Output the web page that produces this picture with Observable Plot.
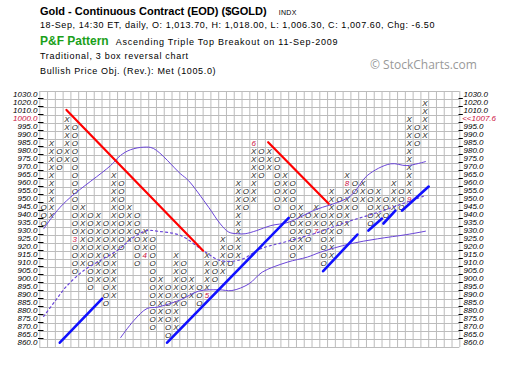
<!DOCTYPE html>
<html><head><meta charset="utf-8">
<script src="https://cdn.jsdelivr.net/npm/d3@7"></script>
<script src="https://cdn.jsdelivr.net/npm/@observablehq/plot@0.6"></script>
<style>
html,body{margin:0;padding:0;background:#fff;}
body{width:520px;height:370px;overflow:hidden;font-family:"Liberation Sans",Arial,sans-serif;color:#000;}
#hdr{position:relative;width:520px;height:82px;}
.t{position:absolute;white-space:nowrap;line-height:1;}
#chart svg{display:block;}
</style></head><body>
<div id="hdr">
<div class="t" style="left:40px;top:6px;font-size:11px;font-weight:bold;">Gold - Continuous Contract (EOD) ($GOLD)<span style="font-size:7px;font-weight:normal;letter-spacing:0.3px;margin-left:12px;">INDX</span></div>
<div class="t" style="left:40px;top:21.4px;font-size:9px;letter-spacing:0.58px;">18-Sep, 14:30 ET, daily, O: 1,013.70, H: 1,018.00, L: 1,006.30, C: 1,007.60, Chg: -6.50</div>
<div class="t" style="left:40px;top:35px;font-size:12px;font-weight:bold;color:#1aa01a;">P&amp;F Pattern<span style="font-size:9px;font-weight:normal;color:#000;letter-spacing:0.78px;margin-left:7px;">Ascending Triple Top Breakout on 11-Sep-2009</span></div>
<div class="t" style="left:40px;top:52.4px;font-size:9px;letter-spacing:0.7px;">Traditional, 3 box reversal chart</div>
<div class="t" style="left:40px;top:67.4px;font-size:9px;letter-spacing:0.65px;">Bullish Price Obj. (Rev.): Met (1005.0)</div>
<div class="t" style="left:370px;top:58.5px;font-size:12px;font-family:'Open Sans',sans-serif;color:#999;">© StockCharts.com</div>
</div>
<div id="chart"></div>
<script>
// ---- data ----
const tickPrices = [1030,1020,1010,1000,995,990,985,980,975,970,965,960,955,950,945,940,935,930,925,920,915,910,905,900,895,890,885,880,875,870,865,860];
const lastPrice = "1007.6";
const colKind = ["O","X","O","X","O","X","O","X","O","X","O","X","O","X","O","X","O","X","O","X","O","X","O","X","O","X","O","X","O","X","O","X","O","X","O","X","O","X","O","X","O","X","O","X","O","X","O","X","O","X"];
const colLow  = [935,940,970,975,905,910,895,900,885,890,920,925,910,915,870,875,865,870,885,890,885,890,900,905,910,915,945,950,965,970,945,950,915,920,925,930,910,915,930,935,945,950,935,940,940,945,945,950,985,990];
const colHigh = [945,985,980,1000,995,945,940,940,935,965,960,945,940,930,925,900,895,915,910,900,895,915,910,925,920,960,955,985,980,980,975,965,960,945,940,945,940,955,950,965,960,960,955,955,950,960,955,1000,995,1020];
const monthCol   = [4,13,21,27,35,39,47];
const monthPrice = [925,915,890,985,930,960,950];
const monthText  = ["3","4","5","6","7","8","9"];

// trend lines (column, price) endpoints
const redCols   = [[2.93,20.5],[28.86,36.65]];
const redPrices = [[1012,918],[985.8,947.3]];
const blueCols   = [[2.07,7.52],[15.87,31.5],[35.93,40.33],[41.75,43.5],[43.68,45.22],[46.08,49.5]];
const bluePrices = [[860.5,888],[860.5,938.5],[905.2,928.1],[930.6,938.1],[935,943.1],[943.1,958.1]];

// moving averages (column, price)
const maFastCols   = [0,1.74,3.44,8.6,9.87,11.16,12.87,14.11,17.58,18.6,21.2,22.7,23.8,24.9,25.9,27.4,29.2,31.5,34.7,39.4,41.6,44.6,46.7,49.1];
const maFastPrices = [931.7,943.1,951.4,971.2,977.5,981.1,982.7,981.9,966.1,961.9,945.2,934.8,929.6,928.6,928.6,930.6,933.7,935.8,943.1,952,965,972.3,971.2,973.7];
const maMidCols   = [0,1.52,3.02,5.15,7.3,9.45,11.58,13.3,14.6,17.6,20.5,22.7,25.3,27.9,30.9,35,39,43,46.5,49.1];
const maMidPrices = [876.9,886.9,896.2,905.6,911.9,918.1,926.4,930.6,930.2,927.5,918.1,911.9,912.3,919.2,923.3,929,936,942,948,952.5];
const maSlowCols   = [9.88,11.6,13.3,14.6,17.6,19.9,22.5,24.2,26.4,28.1,31.3,33.9,35.6,39.4,42.9,46.7,49.1];
const maSlowPrices = [863.6,874.4,881.9,882.7,887.3,892.7,893.6,893.1,897.3,904.6,910.8,914,917.1,922.3,925.4,928.1,930.2];

// ---- helpers ----
const rowOf = p => p >= 1000 ? (1030 - p) / 10 : 3 + (1000 - p) / 5;
const boxPrices = (lo, hi) => { const out = []; let p = lo; while (p <= hi + 1e-9) { out.push(p); p += p >= 1000 ? 10 : 5; } return out; };
const monthKey = new Map(monthCol.map((c, i) => [c + ":" + monthPrice[i], monthText[i]]));
const boxes = [], months = [];
colKind.forEach((k, c) => boxPrices(colLow[c], colHigh[c]).forEach(p => {
  const m = monthKey.get(c + ":" + p);
  if (m) months.push({col: c, row: rowOf(p), t: m});
  else boxes.push({col: c, row: rowOf(p), t: k});
}));
const segs = (cols, prices) => cols.flatMap((cs, i) => cs.map((c, j) => ({col: c, row: rowOf(prices[i][j]), z: i})));
const pts = (cols, prices) => cols.map((c, i) => ({col: c, row: rowOf(prices[i])}));
const red = "#cc1040";
const nCols = 54, nRows = tickPrices.length;

const svg = Plot.plot({
  width: 520, height: 288,
  marginLeft: 39.3, marginRight: 60.7, marginTop: 9, marginBottom: 23,
  x: {domain: [-0.5, nCols - 0.5], axis: null},
  y: {domain: [-0.5, nRows - 0.5], reverse: true, axis: null},
  style: {fontFamily: "'Liberation Sans', Arial, sans-serif", background: "#fff", overflow: "visible"},
  marks: [
    Plot.ruleX(d3.range(-0.5, nCols, 1), {stroke: "#bcbcbc", ariaLabel: "grid"}),
    Plot.ruleY(d3.range(-0.5, nRows, 1), {stroke: "#bcbcbc", ariaLabel: "grid"}),
    Plot.ruleY(tickPrices.slice(1), {y: p => rowOf(p) - 0.5, x1: () => -0.67, x2: () => 0.04, dy: -1, stroke: "#000", ariaLabel: "ticks"}),
    Plot.ruleY(tickPrices.slice(1), {y: p => rowOf(p) - 0.5, x1: () => 53.4, x2: () => 53.95, dy: -1, stroke: "#000", ariaLabel: "ticks"}),
    Plot.text(tickPrices.filter(p => p !== 1000), {x: () => -0.5, y: rowOf, text: p => p.toFixed(1), textAnchor: "end", dx: -2.3, dy: -1, fontSize: 8, fontStyle: "italic", fill: "#000", ariaLabel: "leftlabel"}),
    Plot.text([1000], {x: () => -0.5, y: rowOf, text: p => p.toFixed(1), textAnchor: "end", dx: -2.3, dy: -1, fontSize: 8, fontStyle: "italic", fill: red, ariaLabel: "leftlabel"}),
    Plot.text(tickPrices.filter(p => p !== 1000), {x: () => nCols - 0.5, y: rowOf, text: p => p.toFixed(1), textAnchor: "start", dx: 3.7, dy: -1, fontSize: 8, fontStyle: "italic", fill: "#000", ariaLabel: "rightlabel"}),
    Plot.text([1000], {x: () => nCols - 0.5, y: rowOf, text: () => "<<" + lastPrice, textAnchor: "start", dx: 2.4, dy: -1, fontSize: 8, fontStyle: "italic", fill: red, ariaLabel: "rightlabel"}),
    Plot.text(boxes, {x: "col", y: "row", text: "t", fontSize: 8, fontStyle: "italic", fill: "#1a1a1a", dy: -0.5}),
    Plot.text(months, {x: "col", y: "row", text: "t", fontSize: 8, fontStyle: "italic", fill: red, dy: -0.5}),
    Plot.line(pts(maFastCols, maFastPrices), {x: "col", y: "row", curve: "catmull-rom", stroke: "#6a45d8", strokeWidth: 1}),
    Plot.line(pts(maMidCols, maMidPrices), {x: "col", y: "row", curve: "catmull-rom", stroke: "#6a45d8", strokeWidth: 1.2, strokeDasharray: "2,3"}),
    Plot.line(pts(maSlowCols, maSlowPrices), {x: "col", y: "row", curve: "catmull-rom", stroke: "#6a45d8", strokeWidth: 1}),
    Plot.line(segs(redCols, redPrices), {x: "col", y: "row", z: "z", stroke: "#ff0000", strokeWidth: 2.2}),
    Plot.line(segs(blueCols, bluePrices), {x: "col", y: "row", z: "z", stroke: "#1010ff", strokeWidth: 2.6})
  ]
});
d3.select(svg).selectAll('g[aria-label="grid"] line, g[aria-label="ticks"] line').attr("shape-rendering", "crispEdges");
d3.select(svg).selectAll('g[aria-label="leftlabel"] text').attr("letter-spacing", "1.9px");
d3.select(svg).selectAll('g[aria-label="rightlabel"] text').attr("letter-spacing", "0.5px");
document.getElementById("chart").appendChild(svg);
</script>
</body></html>
